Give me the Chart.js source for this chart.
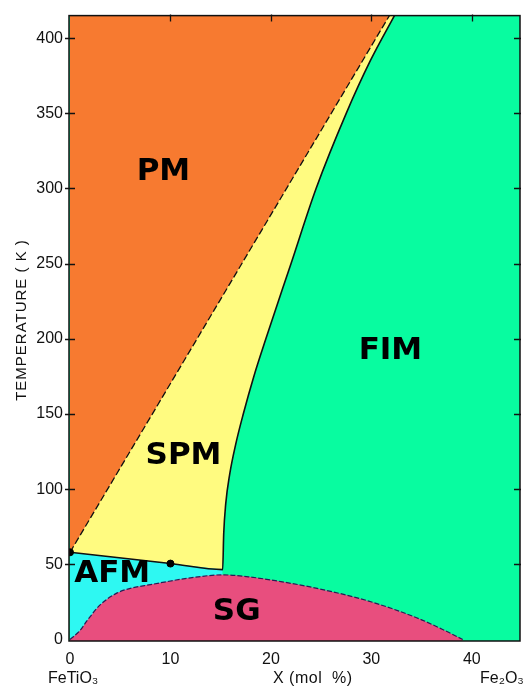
<!DOCTYPE html>
<html>
<head>
<meta charset="utf-8">
<title>FeTiO3 - Fe2O3 phase diagram</title>
<script src="https://cdn.jsdelivr.net/npm/chart.js@4.4.1/dist/chart.umd.min.js"></script>
<style>
  html, body { margin: 0; padding: 0; background: #fff; }
  #wrap { width: 531px; height: 691px; position: relative; }
</style>
</head>
<body>
<div id="wrap"><canvas id="phaseChart"></canvas></div>
<script>
// axis ranges and tick values
const xRange = [-0.1, 44.8];
const yRange = [-1, 415];
const xTickValues = [0, 10, 20, 30, 40];
const yTickValues = [0, 50, 100, 150, 200, 250, 300, 350, 400];

// phase boundaries, x in mol %, y in K
const pmBoundary = [
    { x: 0, y: 58 }, { x: 31.8, y: 415 }
];
const afmBoundary = [
    { x: 0, y: 58 }, { x: 10, y: 50.5 }, { x: 15.2, y: 46.5 }
];
const fimBoundary = [
    { x: 15.2, y: 46.5 }, { x: 15.3, y: 70 }, { x: 15.5, y: 90 }, { x: 15.9, y: 110 },
    { x: 16.5, y: 130 }, { x: 17.25, y: 150 }, { x: 18.3, y: 175 }, { x: 19.5, y: 200 },
    { x: 22.0, y: 250 }, { x: 24.5, y: 300 }, { x: 27.5, y: 350 }, { x: 29.9, y: 385 },
    { x: 32.3, y: 415 }
];
const sgBoundary = [
    { x: 0, y: 0 }, { x: 1.0, y: 6 }, { x: 1.7, y: 12.5 }, { x: 3.0, y: 23 }, { x: 4.7, y: 31 },
    { x: 6.0, y: 34 }, { x: 8.0, y: 36.5 }, { x: 12.0, y: 41 }, { x: 15.2, y: 43 },
    { x: 18.0, y: 41.5 }, { x: 21.0, y: 38.5 }, { x: 24.6, y: 34 }, { x: 29.5, y: 26 },
    { x: 34.5, y: 14.5 }, { x: 37.0, y: 7 }, { x: 39.1, y: 0 }
];
// measured Neel points on the AFM line
const afmPoints = [
    { x: 0, y: 58 }, { x: 10, y: 50.5 }
];

// phase names placed inside their regions
const phaseLabels = [
    { text: 'PM', x: 9.3, y: 311 },
    { text: 'SPM', x: 11.3, y: 122 },
    { text: 'FIM', x: 31.9, y: 192 },
    { text: 'AFM', x: 4.2, y: 43.5 },
    { text: 'SG', x: 16.6, y: 18 }
];

const colors = {
    pm: '#f77a30',
    spm: '#fffb80',
    fim: '#08fca0',
    afm: '#2ef8f2',
    sg: '#e84e7e'
};

const tickFont = { family: '"Liberation Sans", Arial, sans-serif', size: 16 };

// frame, inward tick marks and all free text
const decorations = {
    id: 'decorations',
    afterDatasetsDraw(chart) {
        const { ctx, chartArea: a, scales } = chart;
        const xs = scales.x, ys = scales.y;
        ctx.save();

        ctx.font = 'bold 31px "DejaVu Sans", sans-serif';
        ctx.fillStyle = '#000';
        ctx.textAlign = 'center';
        ctx.textBaseline = 'middle';
        phaseLabels.forEach(l => {
            ctx.fillText(l.text, xs.getPixelForValue(l.x), ys.getPixelForValue(l.y));
        });

        ctx.strokeStyle = '#111';
        ctx.lineWidth = 1.5;
        ctx.strokeRect(a.left, a.top, a.right - a.left, a.bottom - a.top);

        ctx.lineWidth = 1.3;
        ctx.beginPath();
        yTickValues.forEach(v => {
            const py = Math.round(ys.getPixelForValue(v)) + 0.5;
            if (v > 0) {
                ctx.moveTo(a.left - 4, py); ctx.lineTo(a.left + 6, py);
                ctx.moveTo(a.right - 6, py); ctx.lineTo(a.right + 1, py);
            }
        });
        xTickValues.forEach(v => {
            const px = Math.round(xs.getPixelForValue(v)) + 0.5;
            if (v > 0) {
                ctx.moveTo(px, a.top - 1); ctx.lineTo(px, a.top + 6);
            }
        });
        ctx.stroke();

        ctx.fillStyle = '#111';
        ctx.textAlign = 'left';
        ctx.textBaseline = 'middle';
        ctx.font = '16px "Liberation Sans", Arial, sans-serif';
        ctx.fillText('FeTiO₃', 48, 679);
        ctx.fillText('Fe₂O₃', 480, 679);
        ctx.letterSpacing = '0.5px';
        ctx.fillText('X (mol  %)', 273, 679);

        ctx.translate(22, 320);
        ctx.rotate(-Math.PI / 2);
        ctx.textAlign = 'center';
        ctx.letterSpacing = '1px';
        ctx.font = '15px "Liberation Sans", Arial, sans-serif';
        ctx.fillText('TEMPERATURE ( K )', 0, 0);
        ctx.restore();
    }
};

const region = (data, color, fill, order, extra) => Object.assign({
    data: data,
    backgroundColor: color,
    borderWidth: 0,
    pointRadius: 0,
    fill: fill,
    order: order
}, extra || {});

new Chart(document.getElementById('phaseChart'), {
    type: 'line',
    data: {
        datasets: [
            region([{ x: xRange[0], y: yRange[1] }, { x: xRange[1], y: yRange[1] }], colors.fim, 'start', 6),
            region(afmBoundary.concat(fimBoundary.slice(1)), colors.spm, 'end', 5, {
                borderColor: '#111', borderWidth: 1.6, cubicInterpolationMode: 'monotone'
            }),
            region(pmBoundary, colors.pm, 'end', 4, {
                borderColor: '#111', borderWidth: 1.3, borderDash: [7, 3]
            }),
            region(afmBoundary, colors.afm, 'start', 3),
            region(sgBoundary, colors.sg, 'start', 2, {
                borderColor: '#2b1b55', borderWidth: 1.2, borderDash: [5, 2],
                cubicInterpolationMode: 'monotone'
            }),
            {
                data: afmPoints,
                showLine: false,
                pointRadius: 3.5,
                pointBackgroundColor: '#000',
                pointBorderColor: '#000',
                order: 1
            }
        ]
    },
    options: {
        responsive: true,
        maintainAspectRatio: false,
        animation: false,
        layout: { padding: { left: 0, top: 10, right: 11, bottom: 0 } },
        plugins: {
            legend: { display: false },
            tooltip: { enabled: false },
            filler: { propagate: false, drawTime: 'beforeDatasetsDraw' }
        },
        scales: {
            x: {
                type: 'linear',
                min: xRange[0],
                max: xRange[1],
                afterBuildTicks: s => { s.ticks = xTickValues.map(v => ({ value: v })); },
                afterFit: s => { s.height = 50; },
                grid: { display: false, drawTicks: false },
                border: { display: false },
                ticks: { font: tickFont, color: '#111', padding: 9, maxRotation: 0 }
            },
            y: {
                type: 'linear',
                min: yRange[0],
                max: yRange[1],
                afterBuildTicks: s => { s.ticks = yTickValues.map(v => ({ value: v })); },
                afterFit: s => { s.width = 69; },
                grid: { display: false, drawTicks: false },
                border: { display: false },
                ticks: { font: tickFont, color: '#111', padding: 6 }
            }
        }
    },
    plugins: [decorations]
});
</script>
</body>
</html>
